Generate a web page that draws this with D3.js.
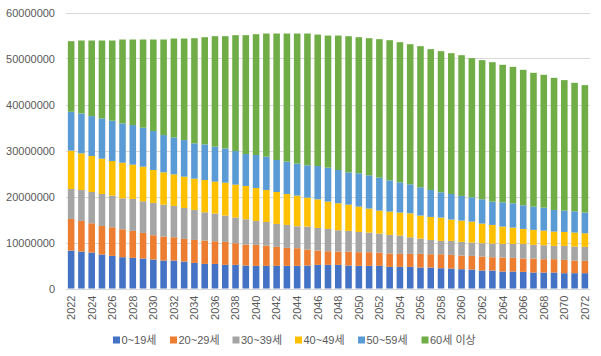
<!DOCTYPE html>
<html><head><meta charset="utf-8">
<script src="https://cdn.jsdelivr.net/npm/d3@7"></script>
<style>
html,body{margin:0;padding:0;background:#fff;}
svg{display:block;}
text{font-family:"Liberation Sans","Noto Sans CJK KR",sans-serif;fill:#595959;}
</style></head>
<body>
<svg id="chart" width="601" height="356"></svg>
<script>
const years = d3.range(2022, 2073).map(String);
const seriesNames = ["0~19세","20~29세","30~39세","40~49세","50~59세","60세 이상"];
const colors = ["#4472C4","#ED7D31","#A5A5A5","#FFC000","#5B9BD5","#70AD47"];
const yTicks = [0,10000000,20000000,30000000,40000000,50000000,60000000];

const age0_19 = [8250000,8030000,7810000,7380000,7090000,6800000,6660000,6510000,6300000,6080000,
6080000,5860000,5570000,5350000,5350000,5140000,5140000,4990000,4920000,4920000,
4920000,4920000,4920000,4990000,5140000,5140000,5140000,4990000,4920000,4920000,
4920000,4700000,4700000,4700000,4560000,4560000,4410000,4340000,4200000,4120000,
3910000,3910000,3690000,3690000,3620000,3470000,3470000,3470000,3330000,3330000,3330000];
const age20_29 = [6870000,6660000,6370000,6220000,6220000,6080000,5860000,5570000,5280000,5210000,
5060000,4920000,4990000,5070000,4930000,4990000,4700000,4560000,4560000,4410000,
4130000,3910000,3840000,3480000,3110000,2960000,2890000,3040000,2970000,2970000,
2890000,2900000,2830000,2830000,2970000,2890000,3040000,2970000,2960000,2970000,
3040000,2890000,3040000,2970000,2890000,3040000,2900000,2900000,2890000,2750000,2680000];
const age30_39 = [6520000,6730000,6800000,6950000,6880000,6730000,6950000,6880000,7020000,6940000,
6810000,6730000,6520000,6150000,6000000,5720000,5570000,5500000,5210000,5140000,
4990000,4990000,4770000,4990000,4920000,4850000,4630000,4490000,4410000,4270000,
4130000,4050000,3980000,3610000,3320000,3110000,2900000,3040000,2970000,2900000,
2890000,2970000,2970000,3040000,3190000,2970000,3040000,2890000,3040000,3040000,3040000];
const age40_49 = [8320000,7960000,7820000,7670000,7520000,7740000,7450000,7520000,7160000,7020000,
6870000,6800000,6800000,7020000,6950000,7160000,7170000,7240000,7160000,6950000,
6940000,6730000,6660000,6290000,6220000,5940000,5860000,5710000,5500000,5210000,
4990000,5070000,4990000,5210000,5000000,5000000,5060000,4630000,4630000,4550000,
4270000,4050000,3760000,3540000,3250000,3260000,3180000,3110000,3040000,3040000,2960000];
const age50_59 = [8460000,8680000,8680000,8760000,8760000,8540000,8610000,8470000,8470000,8110000,
8030000,7960000,7670000,7740000,7600000,7450000,7300000,6940000,7170000,7230000,
6950000,7020000,6950000,7020000,7240000,7380000,7240000,7020000,7240000,7230000,
7170000,6800000,6580000,6300000,6150000,5860000,5500000,5570000,5360000,5290000,
5280000,5070000,5280000,5280000,5140000,5060000,4990000,4710000,4630000,4630000,4490000];
const age60plus = [15340000,15850000,16430000,16930000,17440000,18240000,18600000,19180000,19900000,20770000,
21490000,22070000,22860000,23300000,24020000,24390000,25190000,25840000,26260000,26780000,
27500000,27860000,28290000,28660000,28580000,28720000,29230000,29600000,29590000,29810000,
30100000,30460000,30470000,30460000,30680000,30610000,30680000,30610000,30600000,30240000,
30250000,30310000,29890000,29670000,29450000,29090000,28880000,28720000,28370000,27930000,27710000];

const seriesValues = [age0_19, age20_29, age30_39, age40_49, age50_59, age60plus];
const table = years.map((yr, i) => {
  const row = {year: yr};
  seriesNames.forEach((n, k) => row[n] = seriesValues[k][i]);
  return row;
});

const svg = d3.select("#chart");
const mLeft = 66, mRight = 590, mTop = 12.5, mBottom = 288.5;

const x = d3.scaleBand().domain(years).range([mLeft, mRight]).paddingInner(0.36).paddingOuter(0.18);
const y = d3.scaleLinear().domain([0, 60000000]).range([mBottom, mTop]);

// gridlines
svg.append("g").selectAll("line").data(yTicks).join("line")
  .attr("x1", mLeft).attr("x2", mRight)
  .attr("y1", d => Math.round(y(d)) + 0.5).attr("y2", d => Math.round(y(d)) + 0.5)
  .attr("stroke", "#d9d9d9").attr("stroke-width", 1);

// y axis labels
const yAxis = d3.axisLeft(y).tickValues(yTicks).tickFormat(d3.format("d")).tickSize(0).tickPadding(0);
const gy = svg.append("g").attr("transform", `translate(55,0)`).call(yAxis);
gy.select(".domain").remove();
gy.selectAll("text").attr("font-size", 11).style("font-family", "Liberation Sans, sans-serif").attr("fill", "#595959");

// stacked bars
const stack = d3.stack().keys(seriesNames);
const stacked = stack(table);
svg.append("g").selectAll("g").data(stacked).join("g")
  .attr("fill", (d, i) => colors[i])
  .selectAll("rect").data(d => d).join("rect")
  .attr("x", d => x(d.data.year))
  .attr("width", x.bandwidth())
  .attr("y", d => y(d[1]))
  .attr("height", d => y(d[0]) - y(d[1]));

// baseline
svg.append("line").attr("x1", mLeft).attr("x2", mRight)
  .attr("y1", Math.round(y(0)) + 0.5).attr("y2", Math.round(y(0)) + 0.5)
  .attr("stroke", "#d9d9d9");

// x labels
const xLabels = years.filter((d, i) => i % 2 === 0);
const xAxis = d3.axisBottom(x).tickValues(xLabels).tickSize(0).tickPadding(0);
const gx = svg.append("g").attr("transform", `translate(0,${mBottom})`).call(xAxis);
gx.select(".domain").remove();
gx.selectAll("text")
  .attr("font-size", 11).style("font-family", "Liberation Sans, sans-serif").attr("fill", "#595959")
  .attr("transform", "rotate(-90)")
  .attr("text-anchor", "end")
  .attr("x", -7).attr("y", 0).attr("dy", "0.35em");

// legend
const legendX = [113, 170, 232.5, 295, 358, 421.5];
const lg = svg.append("g").selectAll("g").data(seriesNames).join("g")
  .attr("transform", (d, i) => `translate(${legendX[i]},340)`);
lg.append("rect").attr("x", 0).attr("y", -3.5).attr("width", 7).attr("height", 7)
  .attr("fill", (d, i) => colors[i]);
lg.append("text").attr("x", 8.5).attr("y", 0).attr("dy", "0.35em")
  .attr("font-size", 11).text(d => d);
</script>
</body></html>
